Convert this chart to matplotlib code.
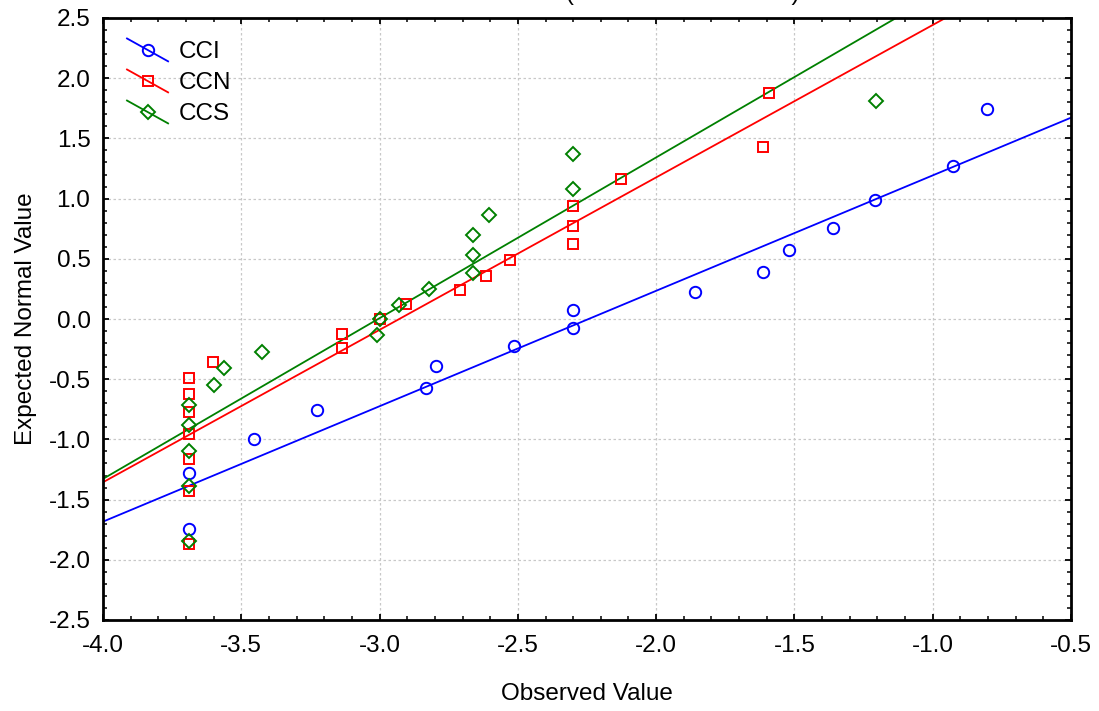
import matplotlib
matplotlib.use("Agg")
import matplotlib.pyplot as plt
import numpy as np
from matplotlib.legend_handler import HandlerBase
from matplotlib.lines import Line2D
from matplotlib.ticker import MultipleLocator

plt.rcParams['font.family'] = ['Liberation Sans', 'DejaVu Sans']

# ---- data ----
series_names = ["CCI", "CCN", "CCS"]

cci_observed = [-3.69, -3.69, -3.454, -3.227, -2.831, -2.795, -2.514, -2.30,
                -2.30, -1.859, -1.614, -1.520, -1.361, -1.209, -0.928, -0.804]
cci_expected = [-1.745, -1.275, -0.994, -0.758, -0.572, -0.392, -0.225, -0.072,
                0.075, 0.225, 0.394, 0.575, 0.758, 0.992, 1.272, 1.742]

ccn_observed = [-3.69, -3.69, -3.69, -3.69, -3.69, -3.69, -3.69, -3.604,
                -3.135, -3.135, -2.999, -2.904, -2.708, -2.615, -2.530,
                -2.30, -2.30, -2.30, -2.127, -1.614, -1.592]
ccn_expected = [-1.87, -1.43, -1.16, -0.955, -0.775, -0.627, -0.492, -0.357,
                -0.244, -0.126, 0.0, 0.122, 0.242, 0.356, 0.489,
                0.622, 0.775, 0.942, 1.161, 1.425, 1.875]

ccs_observed = [-3.69, -3.69, -3.69, -3.69, -3.69, -3.60, -3.564, -3.426,
                -3.008, -2.999, -2.93, -2.821, -2.663, -2.663, -2.663,
                -2.604, -2.30, -2.30, -1.206]
ccs_expected = [-1.84, -1.383, -1.10, -0.883, -0.711, -0.55, -0.41, -0.272,
                -0.136, 0.0, 0.117, 0.247, 0.383, 0.533, 0.70,
                0.864, 1.083, 1.367, 1.814]

# fitted reference lines (value at x=-4 and slope)
line_value_at_minus4 = [-1.683, -1.356, -1.328]
line_slopes = [0.9586, 1.266, 1.335]

x_ticks = [-4.0, -3.5, -3.0, -2.5, -2.0, -1.5, -1.0, -0.5]
y_ticks = [-2.5, -2.0, -1.5, -1.0, -0.5, 0.0, 0.5, 1.0, 1.5, 2.0, 2.5]

title_text = "Normal Data Plot (All Observed Values)"
x_label = "Observed Value"
y_label = "Expected Normal Value"

colors = ["#0000ff", "#ff0000", "#008000"]
markers = ["o", "s", "D"]
msizes = [8.2, 7.8, 6.8]
FS = 17.5

observed = [cci_observed, ccn_observed, ccs_observed]
expected = [cci_expected, ccn_expected, ccs_expected]

fig = plt.figure(figsize=(10.99, 7.11), dpi=100)
ax = fig.add_axes([103/1099, 1 - 620/711, (1071-103)/1099, (620-18)/711])

xmin, xmax = x_ticks[0], x_ticks[-1]
xl = np.array([xmin, xmax])
handles = []
for i in range(3):
    ax.plot(xl, line_value_at_minus4[i] + line_slopes[i] * (xl - xmin),
            color=colors[i], lw=1.3, zorder=2)
    ax.plot(observed[i], expected[i], ls='none', marker=markers[i],
            ms=msizes[i], mfc='none', mec=colors[i], mew=1.4, zorder=3)
    handles.append(Line2D([], [], color=colors[i], marker=markers[i],
                          ms=msizes[i], mfc='none', mec=colors[i], mew=1.4, lw=1.3))


class DiagHandler(HandlerBase):
    def create_artists(self, legend, orig_handle, xdescent, ydescent,
                       width, height, fontsize, trans):
        x0, x1 = -xdescent, width - xdescent
        y0, y1 = -ydescent, height - ydescent
        ln = Line2D([x0, x1], [y1, y0], color=orig_handle.get_color(),
                    lw=orig_handle.get_linewidth(), transform=trans)
        mk = Line2D([(x0 + x1) / 2], [(y0 + y1) / 2], ls='none',
                    marker=orig_handle.get_marker(),
                    ms=orig_handle.get_markersize(), mfc='none',
                    mec=orig_handle.get_markeredgecolor(),
                    mew=orig_handle.get_markeredgewidth(), transform=trans)
        return [ln, mk]


leg = ax.legend(handles, series_names, loc='upper left',
                bbox_to_anchor=(0.0248, 0.966), frameon=False, borderpad=0,
                borderaxespad=0, fontsize=FS, handlelength=1.69,
                handleheight=1.07, handletextpad=0.45, labelspacing=0.26,
                handler_map={Line2D: DiagHandler()})

ax.set_xlim(xmin, xmax)
ax.set_ylim(y_ticks[0], y_ticks[-1])
ax.set_xticks(x_ticks)
ax.set_yticks(y_ticks)
ax.set_xticklabels([f"{v:.1f}" for v in x_ticks])
ax.set_yticklabels([f"{v:.1f}" for v in y_ticks])
ax.xaxis.set_minor_locator(MultipleLocator(0.1))
ax.yaxis.set_minor_locator(MultipleLocator(0.1))
ax.tick_params(which='both', direction='in', top=True, right=True,
               length=4, width=1.3, labelsize=FS)
ax.tick_params(axis='x', which='major', pad=11)
ax.tick_params(axis='y', which='major', pad=9)
ax.tick_params(which='minor', length=3, width=1.1)
ax.grid(True, which='major', color='#c8c8c8', ls=(0, (2, 2)), lw=0.9, zorder=0)
ax.set_axisbelow(True)
for s in ax.spines.values():
    s.set_linewidth(2)

ax.set_xlabel(x_label, fontsize=FS, labelpad=18.5)
ax.set_ylabel(y_label, fontsize=FS, labelpad=8.5)

fig.text(587/1099, 1.0, title_text, ha='center', va='baseline', fontsize=FS)

fig.savefig("out.png", dpi=100)
